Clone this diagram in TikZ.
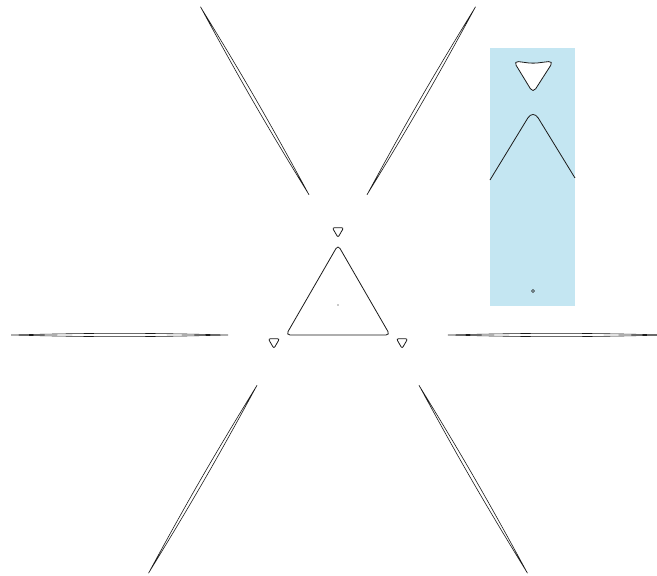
\documentclass[tikz,border=0pt]{standalone}
\usepackage{tikz}
\usetikzlibrary{calc}
\definecolor{curve}{HTML}{1A1A1A}
\definecolor{inset}{HTML}{C4E6F2}

\begin{document}
\begin{tikzpicture}[
  x=1pt,y=1pt,
  oval/.style={draw=curve,line width=0.8pt},
  spike/.style={draw=curve,line width=0.6pt},
  zoombox/.style={fill=inset,draw=none}
]
\useasboundingbox (-338,-271) rectangle (319,305);
% big triangle, the three small ones and the centre
\draw[oval,rounded corners=4pt] (90:60) -- (210:60) -- (330:60) -- cycle;
\foreach \a in {90,210,330}
  \draw[oval,rounded corners=2pt] ($(\a:74)+(270:6.5)$) -- ($(\a:74)+(30:6.5)$) -- ($(\a:74)+(150:6.5)$) -- cycle;
\fill[curve] (0,0) circle (0.6pt);
% thin ovals along the sides
\foreach \a in {90,210,330}
  \foreach \s in {-30,30} {
    \path ($(\a:60)+(\a+\s:58)$) coordinate (in)
          ($(\a:60)+(\a+\s:275)$) coordinate (out);
    \draw[spike] (in) to[bend left=1.5] (out) to[bend left=1.5] (in);
  }
% zoomed detail
\path[zoombox] (152,-1) rectangle (237,257);
\draw[oval,fill=white,rounded corners=5pt] (175.5,244) -- (195,241.5) -- (215.5,244) -- (195,212) -- cycle;
\draw[oval,rounded corners=10pt] (152,125) -- (195,195.5) -- (237,127);
\draw[curve,line width=0.6pt] (195,14) circle (1.5pt);
\end{tikzpicture}
\end{document}
